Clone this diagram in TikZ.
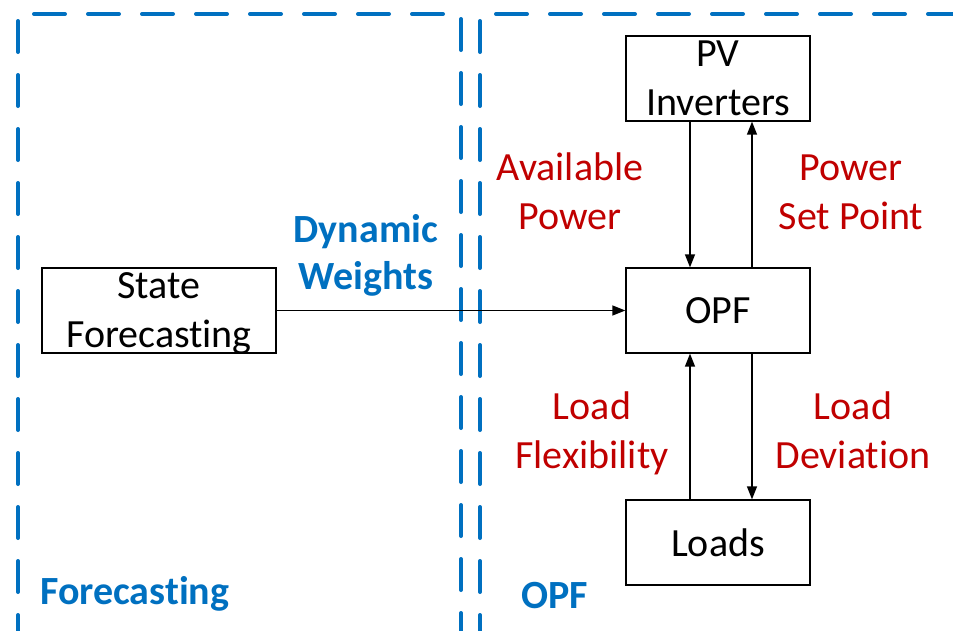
\documentclass[tikz,border=0pt]{standalone}
\usepackage{fontspec}
\setmainfont{Carlito}[Ligatures={NoCommon,NoDiscretionary,NoRare}]
\usetikzlibrary{arrows.meta}
\definecolor{cblue}{RGB}{0,112,192}
\definecolor{cred}{RGB}{192,0,0}
\begin{document}
\begin{tikzpicture}[x=1pt,y=-1pt,
  box/.style={draw=black,line width=1.3pt,minimum width=184pt,minimum height=85pt,inner sep=0pt,align=center,font=\fontsize{40}{49}\selectfont},
  lbl/.style={text=cred,align=center,font=\fontsize{40}{49}\selectfont,inner sep=0pt},
  blbl/.style={text=cblue,align=center,font=\fontsize{40}{47}\selectfont\bfseries,inner sep=0pt},
  frame/.style={draw=cblue,line width=4pt,line cap=round,dash pattern=on 31pt off 23pt},
  conn/.style={draw=black,line width=1.4pt,-{Triangle[length=13pt,width=10pt]}}]
\useasboundingbox (0,0) rectangle (953,630);
\begin{scope}
\clip (0,0) rectangle (953,630);
\draw[frame] (18,700) -- (18,14) -- (461,14) -- (461,700);
\draw[frame] (480,700) -- (480,14) -- (1000,14);
\end{scope}
\node[box] (pv) at (718,78.5) {PV\\Inverters};
\node[box] (opf) at (718,310.5) {OPF};
\node[box] (loads) at (718,542.5) {Loads};
\node[box,minimum width=234pt,text depth=0pt] (sf) at (159,310.5) {State\\Forecasting};
\draw[conn] (pv.south -| 690,0) -- (opf.north -| 690,0);
\draw[conn] (opf.north -| 752,0) -- (pv.south -| 752,0);
\draw[conn] (opf.south -| 752,0) -- (loads.north -| 752,0);
\draw[conn] (loads.north -| 690,0) -- (opf.south -| 690,0);
\draw[conn] (sf.east) -- (opf.west);
\node[lbl] (ap) at (570,191) {Available\\Power};
\node[lbl] (psp) at (851,192) {Power\\Set Point};
\node[lbl] (lf) at (592,433) {Load\\Flexibility};
\node[lbl] (ld) at (853,430) {Load\\Deviation};
\node[blbl] (dw) at (366,255) {Dynamic\\Weights};
\node[blbl,anchor=base west] (fc) at (40,604) {Forecasting};
\node[blbl,anchor=base west] (opfl) at (521,608) {OPF};
\end{tikzpicture}
\end{document}
